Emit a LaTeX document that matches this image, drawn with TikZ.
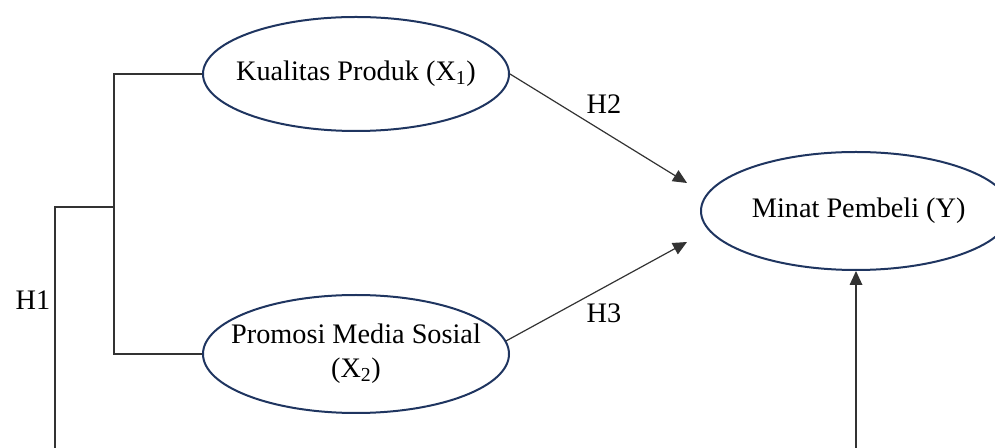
\documentclass[tikz,border=0pt]{standalone}
\usepackage{fontspec}
\setmainfont{Liberation Serif}
\usetikzlibrary{shapes.geometric,arrows.meta}
\definecolor{navy}{HTML}{1F3560}
\definecolor{linegray}{HTML}{333333}
\begin{document}
\begin{tikzpicture}[x=0.75pt,y=-0.75pt,
  varbox/.style={draw=navy,line width=1.5pt,ellipse,inner sep=0pt},
  vartext/.style={font=\fontsize{21.2}{25.5}\selectfont,align=center,inner sep=0pt},
  conn/.style={draw=linegray,line width=0.9pt},
  arr/.style={conn,-{Triangle[length=10.5pt,width=9.5pt]}},
  lbl/.style={font=\fontsize{21.2}{25.5}\selectfont,inner sep=0pt}]
\useasboundingbox (0,0) rectangle (995,448);
\clip (0,0) rectangle (995,448);
\node[varbox,minimum width=306*0.75pt,minimum height=114*0.75pt,
  label={[vartext]center:Kualitas Produk (X\textsubscript{1})}] (k) at (356,74) {};
\node[varbox,minimum width=306*0.75pt,minimum height=118*0.75pt,
  label={[vartext]center:Promosi Media Sosial\\(X\textsubscript{2})}] (p) at (356,354) {};
\node[varbox,minimum width=310*0.75pt,minimum height=118*0.75pt,
  label={[vartext,xshift=2pt]center:Minat Pembeli (Y)}] (m) at (856,211) {};
\coordinate (b1) at (114,207);
\coordinate (t2) at (687,183);
\coordinate (t3) at (687,242);
\coordinate (low) at (55,470);
\draw[conn] (k.west) -| (b1) |- (p.west);
\draw[conn] (b1) -| (low);
\draw[arr] (low) -| (m.south);
\draw[arr] (k.east) -- (t2);
\draw[arr] (p.5) -- (t3);
\node[lbl] (h1) at (33,300) {H1};
\node[lbl] (h2) at (604,104) {H2};
\node[lbl] (h3) at (604,313) {H3};
\end{tikzpicture}
\end{document}
